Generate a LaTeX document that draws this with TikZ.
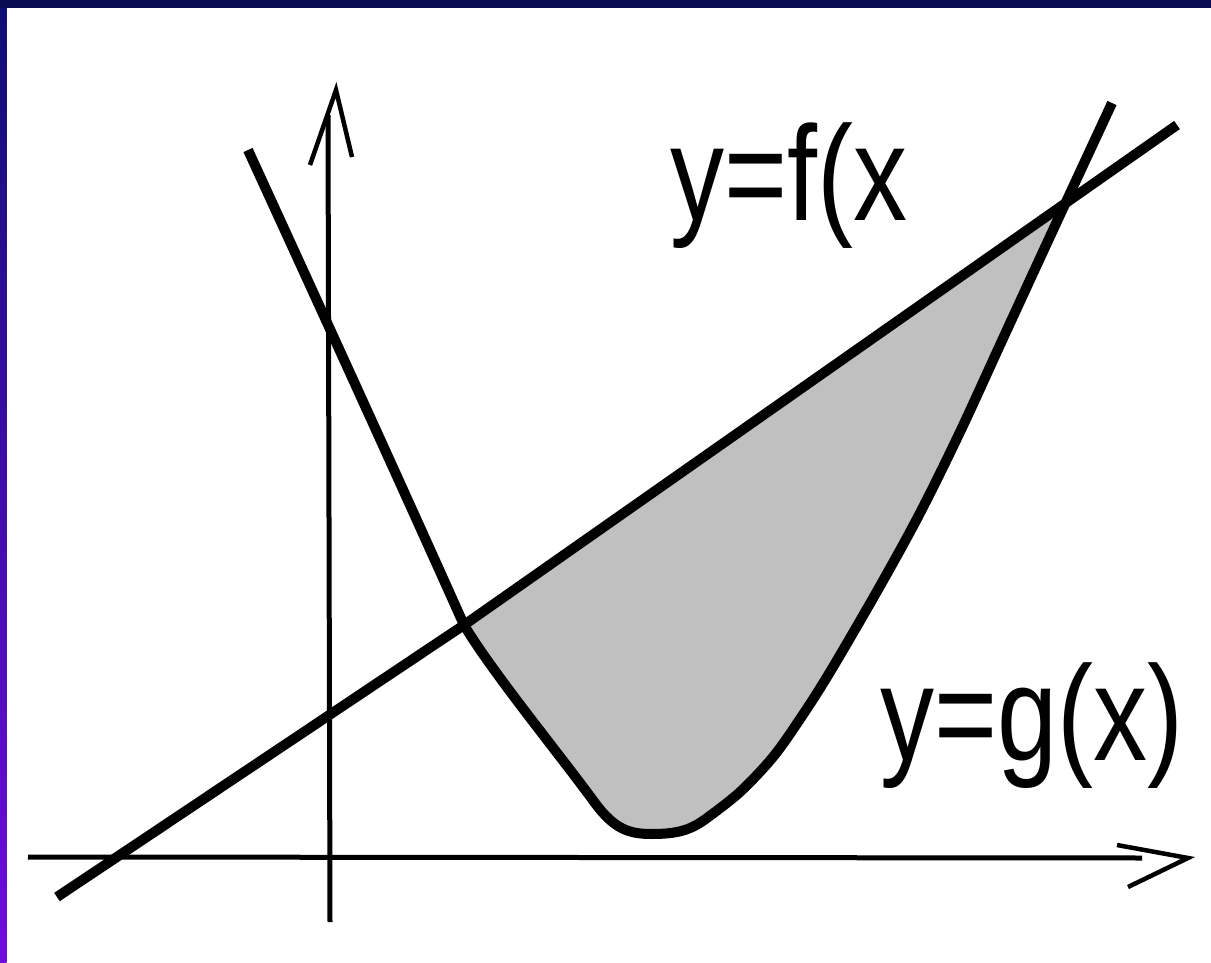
\documentclass[tikz,border=0pt]{standalone}
\usepackage{fontspec}
\setmainfont{Liberation Sans}
\definecolor{navy}{RGB}{8,10,82}
\definecolor{sidetop}{RGB}{14,14,115}
\definecolor{sidemid}{RGB}{35,20,185}
\definecolor{sidebot}{RGB}{112,12,222}
\definecolor{shadegray}{RGB}{192,192,192}
\newcommand\parabpath{(248,150) .. controls (320,307) and (400,482) .. (464,625)
  .. controls (492,672) and (560,755) .. (595,803)
  .. controls (615,830) and (630,834) .. (652,834)
  .. controls (680,834) and (692,829) .. (707,818)
  -- plot[smooth, tension=0.55] coordinates {(707,818) (740,792) (773,757) (800,719) (830,672) (880,586) (920,513) (960,432) (1000,345) (1047,243) (1112,103)}}
\begin{document}
\begin{tikzpicture}[x=1pt,y=-1pt,
  curve/.style={line width=10pt, line join=round},
  axisline/.style={line width=5pt},
  barb/.style={line width=4.5pt, line join=miter},
  lab/.style={font=\fontsize{135}{150}\selectfont, xscale=0.8, anchor=base west, inner sep=0pt}]
\useasboundingbox (0,0) rectangle (1211,963);
\fill[white] (0,0) rectangle (1211,963);
\shade[top color=sidetop, middle color=sidemid, bottom color=sidebot] (0,0) rectangle (6.5,963);
\fill[navy] (0,0) rectangle (1211,8.5);

\coordinate (Lstart) at (57,897);
\coordinate (Lmid) at (464,625);
\coordinate (Lend) at (1177,125);

% shaded region: inside the parabola, below the line
\begin{scope}
\clip (Lstart) -- (Lmid) -- (Lend) -- (1177,963) -- (57,963) -- cycle;
\fill[shadegray] \parabpath -- cycle;
\end{scope}

% axes
\coordinate (xa0) at (28,857);
\coordinate (xa1) at (1142,858);
\coordinate (xb1) at (1117,845);
\coordinate (xtip) at (1188,858);
\coordinate (xb2) at (1128,887);
\draw[axisline] (xa0) -- (xa1);
\draw[barb] (xb1) -- (xtip) -- (xb2);

\coordinate (ya0) at (330,922);
\coordinate (ya1) at (328,115);
\coordinate (yb1) at (310,165);
\coordinate (ytip) at (336,90);
\coordinate (yb2) at (352,157);
\draw[axisline] (ya0) -- (ya1);
\draw[barb] (yb1) -- (ytip) -- (yb2);

% line and parabola
\draw[curve] (Lstart) -- (Lmid) -- (Lend);
\draw[curve] \parabpath;

% labels
\node[lab] (flabel) at (670,220) {y=f(x};
\node[lab] (glabel) at (880,760) {y=g(x)};
\end{tikzpicture}
\end{document}
